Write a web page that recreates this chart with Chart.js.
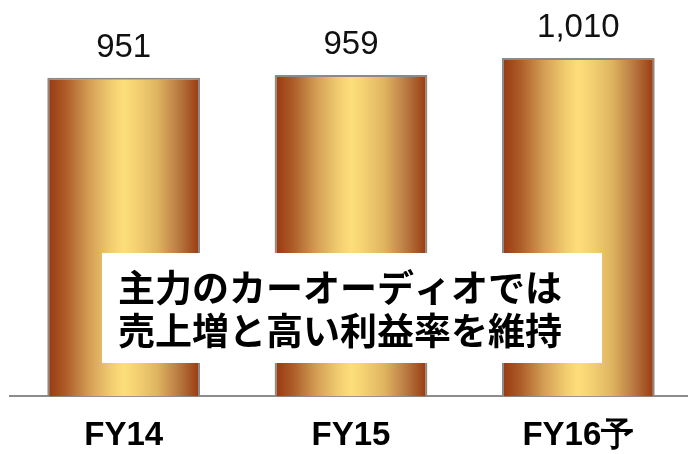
<!DOCTYPE html>
<html>
<head>
<meta charset="utf-8">
<script src="https://cdn.jsdelivr.net/npm/chart.js@4.4.1/dist/chart.umd.min.js"></script>
<style>
  html, body { margin: 0; padding: 0; background: #fff; overflow: hidden; }
  #wrap { width: 688px; height: 454px; overflow: hidden; }
</style>
</head>
<body>
<div id="wrap">
  <canvas id="sales" width="700" height="454"></canvas>
</div>
<script>
const years = ["FY14", "FY15", "FY16予"];
const sales = [951, 959, 1010];
const noteLines = ["主力のカーオーディオでは", "売上増と高い利益率を維持"];

const BAR_PCT = 0.672;

// gold cylinder look: dark brown edges, pale yellow middle
function barGradient(context) {
  const chart = context.chart;
  const xs = chart.scales.x;
  if (!xs || !chart.chartArea) return "#e0b060";
  const cx = xs.getPixelForValue(context.dataIndex);
  const w = (xs.width / years.length) * BAR_PCT;
  const g = chart.ctx.createLinearGradient(cx - w / 2, 0, cx + w / 2, 0);
  g.addColorStop(0, "#983810");
  g.addColorStop(0.12, "#ad5c28");
  g.addColorStop(0.28, "#d5a056");
  g.addColorStop(0.42, "#f2cd70");
  g.addColorStop(0.5, "#fede7a");
  g.addColorStop(0.58, "#f4d272");
  g.addColorStop(0.72, "#dfb460");
  g.addColorStop(0.86, "#b97a42");
  g.addColorStop(1, "#983810");
  return g;
}

// value above each bar
const valueLabels = {
  id: "valueLabels",
  afterDatasetsDraw(chart) {
    const { ctx } = chart;
    const meta = chart.getDatasetMeta(0);
    ctx.save();
    ctx.font = '33px "Liberation Sans", Arial, sans-serif';
    ctx.fillStyle = "#111";
    ctx.textAlign = "center";
    ctx.textBaseline = "alphabetic";
    meta.data.forEach((bar, i) => {
      ctx.fillText(sales[i].toLocaleString("en-US"), bar.x, bar.y - 21);
    });
    ctx.restore();
  }
};

// white callout box across the bars
const noteBox = {
  id: "noteBox",
  afterDraw(chart) {
    const { ctx } = chart;
    ctx.save();
    ctx.fillStyle = "#fff";
    ctx.fillRect(102, 253, 500, 110);
    ctx.fillStyle = "#000";
    ctx.font = 'bold 37px "Noto Sans CJK JP", sans-serif';
    ctx.textAlign = "left";
    ctx.textBaseline = "middle";
    ctx.fillText(noteLines[0], 118, 288);
    ctx.fillText(noteLines[1], 118, 331);
    ctx.restore();
  }
};

new Chart(document.getElementById("sales"), {
  type: "bar",
  data: {
    labels: years,
    datasets: [{
      data: sales,
      backgroundColor: barGradient,
      borderColor: "#8a8a8a",
      borderWidth: 2,
      barPercentage: BAR_PCT,
      categoryPercentage: 1
    }]
  },
  options: {
    responsive: false,
    animation: false,
    layout: { padding: { left: 10, right: 8, top: 1, bottom: -22 } },
    plugins: {
      legend: { display: false },
      tooltip: { enabled: false }
    },
    scales: {
      x: {
        grid: { display: false, drawTicks: false },
        border: { display: true, color: "#8c8c8c", width: 2 },
        ticks: {
          color: "#000",
          padding: 20,
          font: { family: '"Liberation Sans", Arial, sans-serif', size: 33, weight: "bold" }
        }
      },
      y: {
        display: false,
        min: 0,
        max: 1180
      }
    }
  },
  plugins: [valueLabels, noteBox]
});
</script>
</body>
</html>
